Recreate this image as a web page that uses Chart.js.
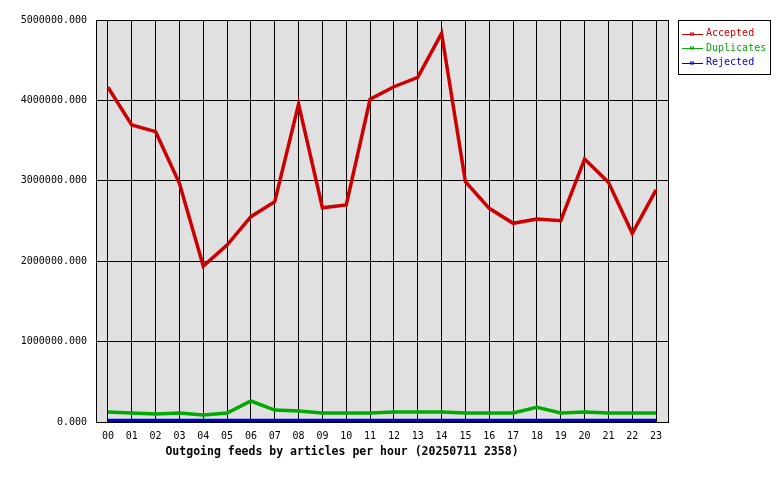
<!DOCTYPE html>
<html>
<head>
<meta charset="utf-8">
<title>Outgoing feeds by articles per hour</title>
<script src="https://cdn.jsdelivr.net/npm/chart.js@4/dist/chart.umd.min.js"></script>
<style>
  html, body { margin: 0; padding: 0; background: #fff; }
  #wrap { width: 780px; height: 480px; }
</style>
</head>
<body>
<div id="wrap"><canvas id="feedChart" width="780" height="480"></canvas></div>
<script>
const hours = ['00','01','02','03','04','05','06','07','08','09','10','11',
               '12','13','14','15','16','17','18','19','20','21','22','23'];

const accepted = [4163000, 3694000, 3611000, 2969000, 1940000, 2201000, 2554000, 2740000,
                  3955000, 2665000, 2699000, 4014000, 4170000, 4287000, 4834000, 2989000,
                  2658000, 2471000, 2525000, 2504000, 3271000, 2981000, 2347000, 2886000];

const duplicates = [124000, 112000, 100000, 112000, 87000, 112000, 261000, 149000,
                    137000, 112000, 112000, 112000, 124000, 124000, 124000, 112000,
                    112000, 112000, 183000, 112000, 124000, 112000, 112000, 112000];

const rejected = [19000, 19000, 19000, 19000, 19000, 19000, 19000, 19000,
                  19000, 19000, 19000, 19000, 19000, 19000, 19000, 19000,
                  19000, 19000, 19000, 19000, 19000, 19000, 19000, 19000];

const titleText = 'Outgoing feeds by articles per hour (20250711 2358)';
const mono = 'DejaVu Sans Mono';

// grey plot background and the right/top frame
const frame = {
  id: 'frame',
  beforeDraw(chart) {
    const {ctx, chartArea: a} = chart;
    ctx.save();
    ctx.fillStyle = '#e0e0e0';
    ctx.fillRect(a.left, a.top, a.right - a.left, a.bottom - a.top);
    ctx.restore();
  },
  afterDraw(chart) {
    const {ctx, chartArea: a} = chart;
    ctx.save();
    ctx.strokeStyle = '#000';
    ctx.lineWidth = 1;
    ctx.strokeRect(Math.round(a.left) + 0.5, Math.round(a.top) + 0.5,
                   Math.round(a.right - a.left), Math.round(a.bottom - a.top));
    // title under the axis
    ctx.fillStyle = '#000';
    ctx.font = 'bold 11.5px "' + mono + '"';
    ctx.textAlign = 'center';
    ctx.textBaseline = 'middle';
    ctx.fillText(titleText, 342, 452);
    ctx.restore();
  }
};

// boxed legend at the top right
const boxLegend = {
  id: 'boxLegend',
  afterDraw(chart) {
    const {ctx} = chart;
    const x0 = 678.5, y0 = 20.5, w = 92, h = 54;
    ctx.save();
    ctx.fillStyle = '#fff';
    ctx.fillRect(x0, y0, w, h);
    ctx.strokeStyle = '#000';
    ctx.lineWidth = 1;
    ctx.strokeRect(x0, y0, w, h);
    ctx.font = '10px "' + mono + '"';
    ctx.textBaseline = 'middle';
    ctx.textAlign = 'left';
    chart.data.datasets.forEach((ds, i) => {
      const y = 33.5 + i * 14.6;
      const yy = Math.round(y) + 0.5;
      ctx.strokeStyle = ds.borderColor;
      ctx.beginPath();
      ctx.moveTo(682, yy);
      ctx.lineTo(703, yy);
      ctx.stroke();
      ctx.strokeRect(690.5, yy - 1.5, 3, 2);
      ctx.fillStyle = ds.borderColor;
      ctx.fillText(ds.label, 706, y);
    });
    ctx.restore();
  }
};

new Chart(document.getElementById('feedChart'), {
  type: 'line',
  data: {
    labels: hours,
    datasets: [
      { label: 'Accepted', data: accepted, borderColor: '#cc0000', borderWidth: 3.5,
        pointRadius: 0, tension: 0, fill: false },
      { label: 'Duplicates', data: duplicates, borderColor: '#00aa00', borderWidth: 3.5,
        pointRadius: 0, tension: 0, fill: false },
      { label: 'Rejected', data: rejected, borderColor: '#0000cc', borderWidth: 3.5,
        pointRadius: 0, tension: 0, fill: false }
    ]
  },
  options: {
    responsive: false,
    animation: false,
    devicePixelRatio: 1,
    layout: { padding: { top: 20, right: 112, left: 0, bottom: 0 } },
    plugins: {
      legend: { display: false },
      tooltip: { enabled: false }
    },
    scales: {
      x: {
        offset: true,
        grid: { offset: false, color: '#000', lineWidth: 1, drawTicks: false },
        border: { color: '#000', width: 1 },
        ticks: { color: '#000', padding: 8, maxRotation: 0, autoSkip: false,
                 font: { family: mono, size: 10 } },
        afterFit(scale) { scale.height = 58; }
      },
      y: {
        min: 0,
        max: 5000000,
        grid: { color: '#000', lineWidth: 1, drawTicks: false },
        border: { color: '#000', width: 1 },
        ticks: { stepSize: 1000000, color: '#000', padding: 9,
                 font: { family: mono, size: 10 },
                 callback: v => Number(v).toFixed(3) },
        afterFit(scale) { scale.width = 96; }
      }
    }
  },
  plugins: [frame, boxLegend]
});
</script>
</body>
</html>
